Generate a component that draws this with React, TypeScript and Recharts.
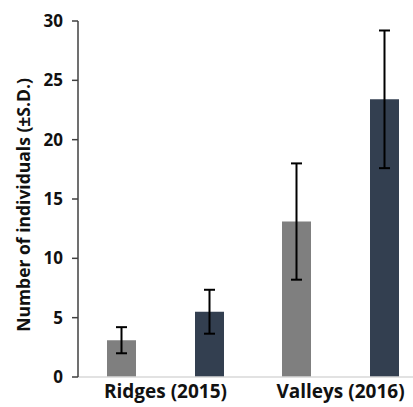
import { BarChart, Bar, XAxis, YAxis, ErrorBar } from "recharts";

// Mean counts per site and year, with standard deviations
const categories = ["Ridges (2015)", "Valleys (2016)"];
const groupAMeans = [3.1, 13.1];
const groupASD = [1.1, 4.9];
const groupBMeans = [5.5, 23.4];
const groupBSD = [1.85, 5.8];
const yTicks = [0, 5, 10, 15, 20, 25, 30];

const data = categories.map((name, i) => ({
  name,
  groupA: groupAMeans[i],
  groupAErr: groupASD[i],
  groupB: groupBMeans[i],
  groupBErr: groupBSD[i],
}));

const FONT = "'Open Sans', sans-serif";

function YLabel({ viewBox }: any) {
  const cy = viewBox.y + viewBox.height / 2 + 6;
  return (
    <text
      x={23}
      y={cy}
      transform={`rotate(-90, 23, ${cy})`}
      textAnchor="middle"
      dominantBaseline="central"
      fontFamily={FONT}
      fontWeight={700}
      fontSize={17.5}
      fill="#111"
    >
      Number of individuals (±S.D.)
    </text>
  );
}

export default function App() {
  return (
    <div
      style={{
        position: "absolute",
        left: 0,
        top: 0,
        width: 413,
        height: 407,
        overflow: "hidden",
        background: "#fff",
      }}
    >
      <BarChart
        width={428}
        height={407}
        data={data}
        margin={{ top: 21, right: 0, bottom: 0, left: 0 }}
        barCategoryGap={29}
        barGap={59}
        barSize={29}
      >
        <XAxis
          dataKey="name"
          height={30}
          tickLine={false}
          axisLine={{ stroke: "#d9d9d9", strokeWidth: 1.5 }}
          tick={{
            fontFamily: FONT,
            fontWeight: 700,
            fontSize: 19,
            fill: "#111",
          }}
          tickMargin={2}
        />
        <YAxis
          width={78}
          domain={[0, 30]}
          ticks={yTicks}
          interval={0}
          tickSize={6}
          tickMargin={9}
          axisLine={{ stroke: "#404040", strokeWidth: 1.5 }}
          tickLine={{ stroke: "#404040", strokeWidth: 1.5 }}
          tick={{
            fontFamily: FONT,
            fontWeight: 700,
            fontSize: 17,
            fill: "#111",
          }}
          label={<YLabel />}
        />
        <Bar dataKey="groupA" fill="#7f7f7f" isAnimationActive={false}>
          <ErrorBar
            dataKey="groupAErr"
            width={5.5}
            stroke="#000"
            strokeWidth={2}
          />
        </Bar>
        <Bar dataKey="groupB" fill="#333f50" isAnimationActive={false}>
          <ErrorBar
            dataKey="groupBErr"
            width={5.5}
            stroke="#000"
            strokeWidth={2}
          />
        </Bar>
      </BarChart>
    </div>
  );
}
